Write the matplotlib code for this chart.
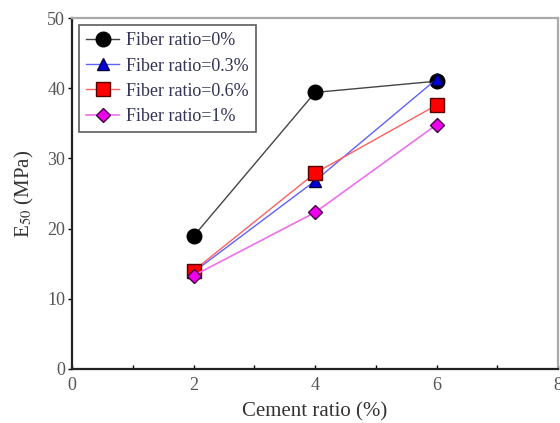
import matplotlib
matplotlib.use('Agg')
import matplotlib.pyplot as plt

plt.rcParams['font.family'] = ['Liberation Serif', 'DejaVu Serif']
plt.rcParams['mathtext.fontset'] = 'stix'

cement = [2, 4, 6]
e50_f0 = [18.9, 39.4, 41.0]
e50_f03 = [13.8, 26.8, 41.3]
e50_f06 = [14.0, 27.9, 37.6]
e50_f1 = [13.3, 22.3, 34.8]
labels = ['Fiber ratio=0%', 'Fiber ratio=0.3%', 'Fiber ratio=0.6%', 'Fiber ratio=1%']

fig = plt.figure(figsize=(5.6, 4.23), dpi=100)
ax = fig.add_axes([0.1286, 0.1277, 0.868, 0.8297])

ax.plot(cement, e50_f0, color='#444444', lw=1.0, marker='o', ms=10.5,
        mfc='black', mec='black', label=labels[0])
ax.plot(cement, e50_f03, color='#6060ff', lw=1.0, marker='^', ms=9,
        mfc='#0000dd', mec='#000044', label=labels[1])
ax.plot(cement, e50_f06, color='#ff6060', lw=1.0, marker='s', ms=10,
        mfc='#ff0000', mec='#550000', label=labels[2])
ax.plot(cement, e50_f1, color='#ee70ee', lw=1.2, marker='D', ms=7.5,
        mfc='#ee00ee', mec='#440044', label=labels[3])

ax.set_xlim(0, 8)
ax.set_ylim(0, 50)
ax.set_xticks([0, 2, 4, 6, 8])
ax.set_xticks([1, 3, 5, 7], minor=True)
ax.set_yticks([0, 10, 20, 30, 40, 50])

ax.tick_params(axis='x', which='both', direction='in', length=3, width=1,
               labelsize=13, labelcolor='#555555', pad=6)
ax.tick_params(axis='y', direction='out', length=3, width=1,
               labelsize=13, labelcolor='#555555', pad=2)

for side in ['left', 'bottom']:
    ax.spines[side].set_linewidth(1.6)
    ax.spines[side].set_color('#222222')
for side in ['top', 'right']:
    ax.spines[side].set_linewidth(1.6)
    ax.spines[side].set_color('#aaaaaa')

ax.set_xlabel('Cement ratio (%)', fontsize=15, color='#333333', labelpad=6)
ax.set_ylabel('E$_{50}$ (MPa)', fontsize=15, color='#333333', labelpad=8)

leg = ax.legend(loc='upper left', fontsize=13, frameon=True, fancybox=False,
                edgecolor='#333333', handlelength=1.8, handletextpad=0.4,
                borderpad=0.4, labelspacing=0.45, borderaxespad=0.4)
leg.get_frame().set_linewidth(1.2)
for t in leg.get_texts():
    t.set_color('#333355')

fig.savefig('out.png', dpi=100)
